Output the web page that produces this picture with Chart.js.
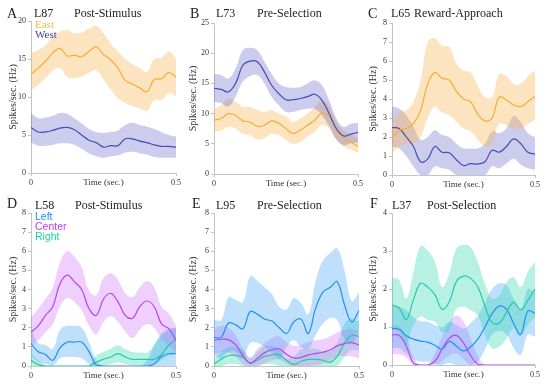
<!DOCTYPE html>
<html><head><meta charset="utf-8">
<script src="https://cdn.jsdelivr.net/npm/chart.js@4/dist/chart.umd.min.js"></script>
<style>
body{margin:0;background:#fff;width:550px;height:387px;position:relative;overflow:hidden;font-family:"Liberation Serif",serif;}
canvas{position:absolute;}
.t{position:absolute;white-space:nowrap;color:#222;line-height:1;font-family:"Liberation Serif",serif;}
.L{font-size:14px;}
.h{font-size:12px;}
.g{font-size:11px;}
.s{font-size:10.5px;font-family:"Liberation Sans",sans-serif;}
</style></head><body>
<canvas id="cA"></canvas><canvas id="cB"></canvas><canvas id="cC"></canvas>
<canvas id="cD"></canvas><canvas id="cE"></canvas><canvas id="cF"></canvas>

<div class="t L" style="left:7px;top:6.6px">A</div>
<div class="t h" style="left:34px;top:7px">L87</div>
<div class="t h" style="left:74px;top:7px">Post-Stimulus</div>
<div class="t g" style="left:35px;top:19.3px;color:#f9b54a">East</div>
<div class="t g" style="left:35px;top:29.3px;color:#3d3daa">West</div>

<div class="t L" style="left:190px;top:6.6px">B</div>
<div class="t h" style="left:216px;top:7px">L73</div>
<div class="t h" style="left:257px;top:7px">Pre-Selection</div>

<div class="t L" style="left:368px;top:6.6px">C</div>
<div class="t h" style="left:391px;top:7px">L65</div>
<div class="t h" style="left:414px;top:7px">Reward-Approach</div>

<div class="t L" style="left:7px;top:197.3px">D</div>
<div class="t h" style="left:35px;top:198.7px">L58</div>
<div class="t h" style="left:75px;top:198.7px">Post-Stimulus</div>
<div class="t s" style="left:35px;top:210.6px;color:#1e8ef5">Left</div>
<div class="t s" style="left:35px;top:220.6px;color:#c03cf8">Center</div>
<div class="t s" style="left:35px;top:231.1px;color:#1fd3a5">Right</div>

<div class="t L" style="left:192px;top:197.3px">E</div>
<div class="t h" style="left:216px;top:198.7px">L95</div>
<div class="t h" style="left:257px;top:198.7px">Pre-Selection</div>

<div class="t L" style="left:370px;top:197.3px">F</div>
<div class="t h" style="left:392px;top:198.7px">L37</div>
<div class="t h" style="left:427px;top:198.7px">Post-Selection</div>

<script>
// time grid (sec.)
const TIME = [0,0.025,0.05,0.075,0.1,0.125,0.15,0.175,0.2,0.225,0.25,0.275,0.3,0.325,0.35,0.375,0.4,0.425,0.45,0.475,0.5];
const X_TICKS = [0, 0.5];
const X_TICK_LABELS = ['0', '0.5'];

// Panel A (L87 Post-Stimulus)
const aEastMean = [13.0,13.8,14.7,15.8,16.4,15.4,15.5,15.3,16.0,16.6,15.6,14.9,13.8,12.2,11.7,11.2,10.7,12.3,12.4,13.2,12.6];
const aEastHi   = [15.8,16.2,16.8,18.0,18.6,18.8,18.4,18.5,19.0,19.4,18.4,17.0,16.0,15.0,14.3,13.8,13.3,15.0,15.2,16.0,15.1];
const aEastLo   = [10.9,11.6,12.5,13.5,13.8,12.6,12.5,12.7,13.2,13.5,12.3,11.0,9.8,9.2,8.8,8.5,8.2,9.6,9.6,10.5,10.1];
const aWestMean = [6.0,5.4,5.4,5.6,5.9,6.0,5.7,5.0,4.3,4.0,3.4,3.6,3.6,4.5,4.5,4.2,4.0,3.7,3.5,3.5,3.4];
const aWestHi   = [7.9,7.2,7.3,7.5,7.9,7.8,7.2,6.5,5.8,5.4,5.3,5.4,5.6,6.3,6.6,6.3,6.1,5.8,5.4,5.0,4.8];
const aWestLo   = [4.0,3.6,3.6,3.7,3.9,3.9,3.7,3.2,2.6,2.2,2.0,2.2,2.3,2.7,2.8,2.6,2.4,2.1,2.0,2.0,2.0];

// Panel B (L73 Pre-Selection)
const bWestMean = [14.2,14.0,13.6,15.0,18.0,18.7,18.6,16.9,14.7,13.3,12.3,12.3,12.5,12.8,13.2,12.2,10.0,7.5,6.3,6.6,6.9];
const bWestHi   = [16.5,16.4,15.8,17.5,20.5,20.9,20.5,18.6,16.6,15.0,14.4,14.3,14.4,15.0,15.5,14.7,12.2,9.2,7.8,8.3,8.5];
const bWestLo   = [11.9,11.7,11.2,12.8,15.3,16.2,16.4,15.0,12.8,11.4,10.3,10.3,10.6,10.8,10.8,9.7,7.9,5.7,4.8,5.1,5.2];
const bEastMean = [8.9,9.2,10.0,9.7,8.8,8.6,7.9,8.1,8.8,8.4,7.5,6.7,7.3,8.1,8.9,10.1,9.5,7.3,5.9,5.3,4.6];
const bEastHi   = [10.8,11.4,12.5,11.9,11.1,11.1,10.6,10.3,10.6,10.0,9.5,8.6,9.2,10.0,11.1,12.2,11.2,8.6,7.2,6.6,5.9];
const bEastLo   = [7.0,7.2,7.8,7.5,6.7,6.4,5.7,5.9,6.7,6.4,5.6,5.0,5.3,6.2,7.0,8.1,7.5,5.7,4.5,4.0,3.5];

// Panel C (L65 Reward-Approach)
const cEastMean = [1.93,2.36,2.45,2.7,3.4,4.8,5.4,5.1,5.0,4.4,4.0,3.85,3.2,2.85,3.0,4.1,3.95,3.7,3.6,3.85,4.15];
const cEastHi   = [2.8,3.3,3.4,3.85,5.0,7.0,7.2,6.8,6.75,5.85,5.5,5.4,4.7,4.1,4.1,5.3,5.2,4.8,4.8,5.2,5.5];
const cEastLo   = [1.15,1.5,1.6,1.65,2.0,3.0,3.6,3.3,3.15,2.8,2.45,2.3,1.85,1.5,1.65,2.7,2.6,2.45,2.45,2.7,2.9];
const cWestMean = [2.5,2.45,2.0,1.5,0.7,0.85,1.5,1.2,1.17,0.8,0.5,0.6,0.58,0.7,1.3,1.2,1.5,1.9,1.65,1.2,1.1];
const cWestHi   = [3.6,3.5,3.15,2.55,1.85,2.0,2.35,2.1,2.0,1.65,1.4,1.4,1.4,1.65,2.3,2.2,2.45,3.1,2.8,2.2,2.0];
const cWestLo   = [1.5,1.4,1.0,0.45,0,0,0.45,0.35,0.27,0,0,0,0,0,0.45,0.35,0.6,0.85,0.55,0.35,0.27];

// Panel D (L58 Post-Stimulus)
const dLeftMean   = [1.17,0.75,0.6,0.3,0.95,1.25,1.25,1.25,0.75,0.05,0,0,0,0,0,0,0,0.1,0.5,0.64,0.64];
const dLeftHi     = [1.95,1.2,1.1,0.9,1.9,2.1,2.1,2.0,1.25,0.3,0,0,0,0,0,0,0.3,1.1,1.7,1.95,2.0];
const dLeftLo     = [0.55,0.2,0.1,0,0.4,0.47,0.47,0.4,0.1,0,0,0,0,0,0,0,0,0,0,0,0];
const dCenterMean = [1.77,2.1,2.65,3.1,4.3,4.75,4.4,4.0,3.0,2.65,3.5,3.8,3.35,2.65,2.5,3.1,3.4,3.1,2.2,1.95,1.35];
const dCenterHi   = [2.55,3.0,3.5,4.1,5.4,6.0,5.7,5.15,3.95,3.7,4.6,4.85,4.5,3.8,3.6,4.1,4.45,4.1,3.1,2.75,2.1];
const dCenterLo   = [1.08,1.35,1.77,2.2,3.1,3.55,3.35,2.9,2.1,1.65,2.3,2.6,2.3,1.8,1.45,1.9,2.2,2.0,1.43,1.08,0.73];
const dRightMean  = [0.3,0.07,0,0,0,0,0,0,0,0.2,0.35,0.47,0.65,0.47,0.35,0.35,0.35,0.35,0.6,1.1,1.37];
const dRightHi    = [0.65,0.3,0.05,0,0,0,0,0,0.05,0.55,0.73,0.9,1.08,0.87,0.73,0.7,0.7,1.08,1.6,1.85,2.0];
const dRightLo    = [0,0,0,0,0,0,0,0,0,0,0,0.1,0.2,0.1,0.03,0.03,0.03,0.1,0.3,0.55,0.65];

// Panel E (L95 Pre-Selection)
const eLeftMean   = [1.5,1.5,2.25,2.15,1.95,2.85,2.7,2.45,2.35,2.0,1.7,2.3,2.45,1.7,3.0,3.85,4.1,4.4,3.2,2.3,2.9];
const eLeftHi     = [2.4,2.4,3.6,3.45,3.35,4.7,4.45,4.1,3.75,3.1,2.95,3.55,3.3,2.7,4.4,5.5,5.9,6.15,5.0,3.4,3.85];
const eLeftLo     = [0.55,0.4,0.75,0.75,0.45,1.2,1.2,1.0,0.7,0.35,1.0,1.35,1.0,0.9,1.6,2.2,2.5,2.4,1.4,1.2,1.9];
const eCenterMean = [1.35,1.4,1.38,1.1,0.55,0.15,0.4,0.7,0.85,0.9,0.6,0.42,0.45,0.58,0.65,0.72,0.84,1.05,1.17,1.22,1.1];
const eCenterHi   = [1.95,2.1,2.0,1.6,0.9,0.45,0.9,1.2,1.45,1.55,1.25,1.05,1.1,1.25,1.35,1.4,1.55,1.75,1.9,1.95,1.8];
const eCenterLo   = [0.65,0.7,0.7,0.5,0.1,0,0,0.15,0.3,0.35,0.1,0,0,0,0.05,0.15,0.3,0.5,0.5,0.5,0.4];
const eRightMean  = [0.1,0.35,0.55,0.55,0.45,0.15,0.3,0.5,0.58,0.58,0.3,0.08,0.25,0.35,0.35,0.3,0.2,0.5,1.2,1.6,1.55];
const eRightHi    = [0.38,0.75,1.0,1.0,0.85,0.4,0.75,1.05,1.05,0.85,0.4,0.5,0.85,0.9,0.9,0.8,0.75,1.2,2.2,2.5,2.3];
const eRightLo    = [0,0,0.1,0.1,0,0,0,0.1,0.1,0,0,0,0,0,0,0,0,0,0.5,0.85,0.8];

// Panel F (L37 Post-Selection)
const fLeftMean   = [0.96,0.94,0.77,0.68,0.63,0.6,0.52,0.42,0.62,0.5,0.37,0.48,0.68,1.0,1.35,1.55,1.47,1.1,0.8,1.42,1.36];
const fLeftHi     = [1.57,1.53,1.44,1.25,1.15,1.14,1.05,1.0,1.14,1.05,0.96,1.1,1.3,1.65,2.0,2.15,2.1,1.75,1.45,2.0,1.92];
const fLeftLo     = [0.44,0.44,0.3,0.15,0.09,0.09,0.02,0,0.05,0,0,0,0.1,0.4,0.8,0.9,0.8,0.45,0.26,0.8,0.74];
const fCenterMean = [0.79,0.78,0.5,0.05,0,0,0.1,0.42,0.7,0.78,0.58,0.25,0.02,0,0,0,0,0,0,0,0];
const fCenterHi   = [1.05,1.02,0.75,0.2,0,0,0.3,0.75,1.1,1.3,1.15,0.7,0.25,0,0,0,0,0,0,0,0];
const fCenterLo   = [0.28,0.28,0.2,0,0,0,0,0.1,0.25,0.3,0.15,0,0,0,0,0,0,0,0,0,0];
const fRightMean  = [1.58,1.5,1.2,1.72,2.15,2.05,1.85,1.47,1.66,2.2,2.34,2.28,2.05,1.55,1.12,1.1,1.38,1.65,1.45,1.7,2.0];
const fRightHi    = [2.31,2.23,1.75,2.45,3.14,3.01,2.71,2.05,2.4,3.06,3.16,3.1,2.71,2.14,1.75,1.83,2.18,2.31,2.05,2.45,2.71];
const fRightLo    = [0.96,0.87,0.52,1.05,1.27,1.18,1.14,0.87,0.92,1.48,1.53,1.44,1.31,0.79,0.44,0.48,0.7,0.96,0.79,1.05,1.27];

const COL = {
  east:   {line:'#f6ad33', fill:'rgba(250,185,90,0.38)'},
  west:   {line:'#4a4ab8', fill:'rgba(100,100,200,0.33)'},
  left:   {line:'#2490f0', fill:'rgba(70,165,250,0.35)'},
  center: {line:'#b845f2', fill:'rgba(205,110,250,0.33)'},
  right:  {line:'#25cba5', fill:'rgba(50,215,175,0.35)'}
};

const pts = arr => TIME.map((t, i) => ({x: t, y: arr[i]}));
const AXC = '#c4c4c4';
const TICKF = {family: 'Liberation Serif', size: 8};

function bandSets(mean, hi, lo, c) {
  const common = {pointRadius: 0, tension: 0.4, cubicInterpolationMode: 'default'};
  return [
    Object.assign({data: pts(hi), borderWidth: 0, borderColor: 'transparent', fill: false, order: 1}, common),
    Object.assign({data: pts(lo), borderWidth: 0, borderColor: 'transparent', fill: '-1', backgroundColor: c.fill, order: 1}, common),
    Object.assign({data: pts(mean), borderWidth: 1.2, borderColor: c.line, fill: false, order: 0}, common)
  ];
}

function panel(id, area, yTitleX, yMax, yStep, sets) {
  const cv = document.getElementById(id);
  const cx = area.left - 31, cy = area.top - 10;
  const cw = area.right + 10 - cx, ch = area.bottom + 16 - cy;
  cv.style.left = cx + 'px'; cv.style.top = cy + 'px';
  cv.width = cw; cv.height = ch;
  cv.style.width = cw + 'px'; cv.style.height = ch + 'px';
  const pl = yTitleX - 5 - cx;
  let ds = [];
  sets.forEach(s => { ds = ds.concat(bandSets(s[0], s[1], s[2], s[3])); });
  new Chart(cv, {
    type: 'line',
    data: {datasets: ds},
    options: {
      responsive: false, animation: false, devicePixelRatio: 1,
      layout: {padding: {left: pl, top: 10, right: 10, bottom: 0}},
      plugins: {legend: {display: false}, tooltip: {enabled: false}},
      scales: {
        x: {
          type: 'linear', min: 0, max: 0.5,
          afterBuildTicks: s => { s.ticks = X_TICKS.map(v => ({value: v})); },
          afterFit: s => { s.height = 16; },
          ticks: {callback: (v) => X_TICK_LABELS[X_TICKS.indexOf(v)], maxRotation: 0, autoSkip: false,
                  font: TICKF, color: '#333', padding: 2},
          grid: {display: true, drawOnChartArea: false, drawTicks: true, tickLength: 3, color: AXC},
          border: {display: true, color: AXC, width: 1},
          title: {display: true, text: 'Time (sec.)', color: '#333',
                  font: {family: 'Liberation Serif', size: 9, lineHeight: 1}, padding: {top: 0, bottom: 1.5}}
        },
        y: {
          min: 0, max: yMax,
          afterFit: s => { s.width = area.left - cx - pl; },
          ticks: {stepSize: yStep, font: TICKF, color: '#333', padding: 2},
          grid: {display: true, drawOnChartArea: false, drawTicks: true, tickLength: 3, color: AXC},
          border: {display: true, color: AXC, width: 1},
          title: {display: true, text: 'Spikes/sec. (Hz)', color: '#333',
                  font: {family: 'Liberation Serif', size: 10, lineHeight: 1}, padding: 0}
        }
      }
    }
  });
}

panel('cA', {left: 31, right: 176, top: 21, bottom: 173}, 13.5, 20, 5, [
  [aEastMean, aEastHi, aEastLo, COL.east],
  [aWestMean, aWestHi, aWestLo, COL.west]
]);
panel('cB', {left: 214, right: 358, top: 23, bottom: 174}, 193.5, 25, 5, [
  [bWestMean, bWestHi, bWestLo, COL.west],
  [bEastMean, bEastHi, bEastLo, COL.east]
]);
panel('cC', {left: 392, right: 535, top: 23, bottom: 175}, 373.5, 8, 1, [
  [cEastMean, cEastHi, cEastLo, COL.east],
  [cWestMean, cWestHi, cWestLo, COL.west]
]);
panel('cD', {left: 31, right: 176, top: 213, bottom: 366}, 13.5, 8, 1, [
  [dCenterMean, dCenterHi, dCenterLo, COL.center],
  [dLeftMean, dLeftHi, dLeftLo, COL.left],
  [dRightMean, dRightHi, dRightLo, COL.right]
]);
panel('cE', {left: 214, right: 359, top: 213, bottom: 366}, 193.5, 8, 1, [
  [eLeftMean, eLeftHi, eLeftLo, COL.left],
  [eCenterMean, eCenterHi, eCenterLo, COL.center],
  [eRightMean, eRightHi, eRightLo, COL.right]
]);
panel('cF', {left: 392, right: 535, top: 213, bottom: 365}, 373.5, 4, 1, [
  [fRightMean, fRightHi, fRightLo, COL.right],
  [fLeftMean, fLeftHi, fLeftLo, COL.left],
  [fCenterMean, fCenterHi, fCenterLo, COL.center]
]);
</script>
</body></html>
